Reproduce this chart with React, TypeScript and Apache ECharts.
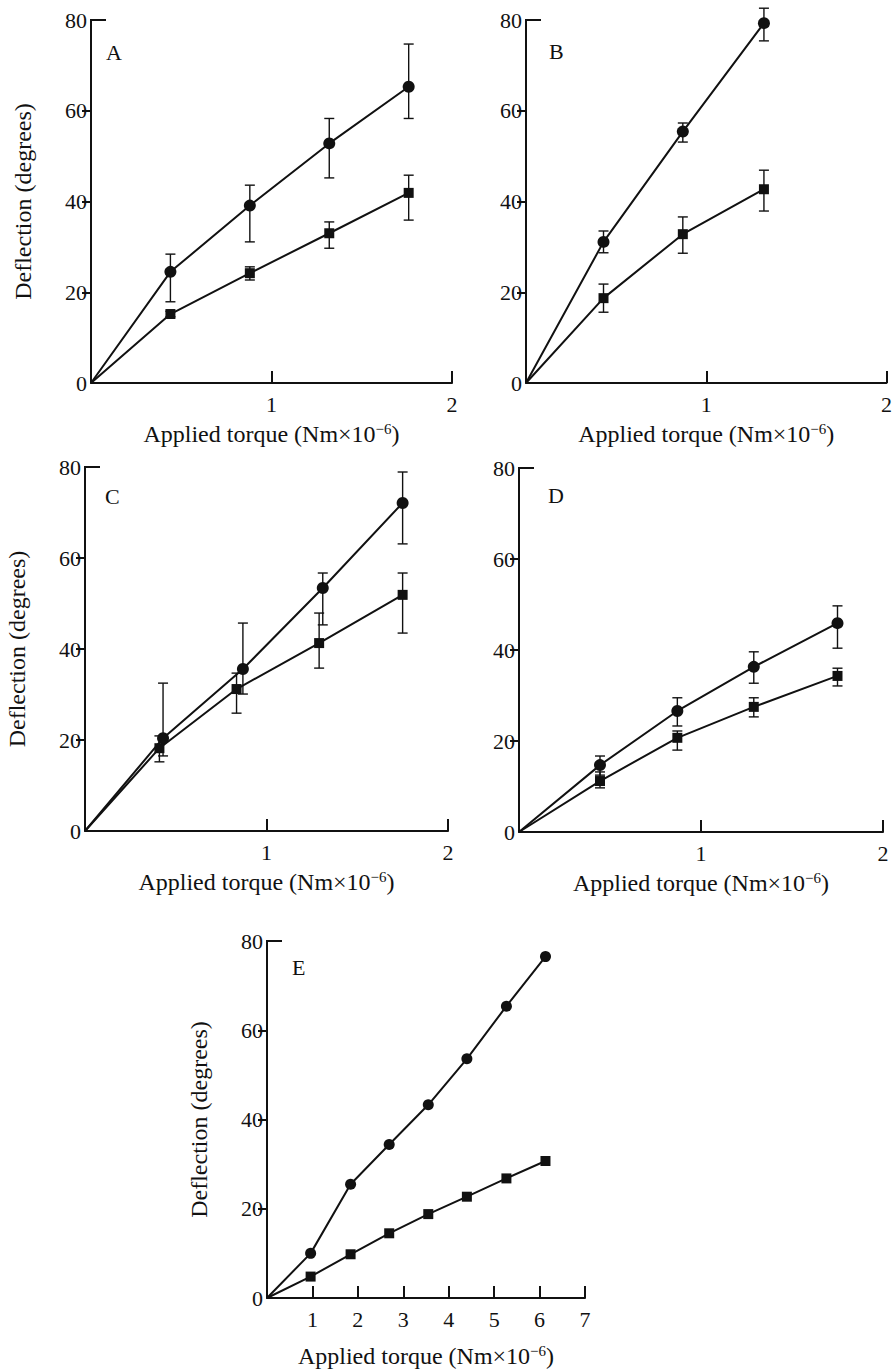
import React, { useEffect, useRef } from 'react';
import * as echarts from 'echarts';

// ---------- data ----------
const panelLetters = ['A', 'B', 'C', 'D', 'E'];

const xA = [0.44, 0.88, 1.32, 1.76];
const circA = [24.5, 39.1, 52.8, 65.3];
const circALo = [17.9, 31.1, 45.2, 58.3];
const circAHi = [28.4, 43.6, 58.3, 74.7];
const sqA = [15.2, 24.2, 33.0, 41.9];
const sqALo = [14.6, 22.7, 29.7, 35.9];
const sqAHi = [15.8, 25.6, 35.5, 45.8];

const xB = [0.43, 0.87, 1.32];
const circB = [31.1, 55.4, 79.3];
const circBLo = [28.7, 53.1, 75.4];
const circBHi = [33.5, 57.3, 82.6];
const sqB = [18.7, 32.8, 42.7];
const sqBLo = [15.6, 28.6, 37.9];
const sqBHi = [21.8, 36.6, 46.9];

const xCcirc = [0.43, 0.87, 1.31, 1.75];
const circC = [20.4, 35.6, 53.4, 72.1];
const circCLo = [16.5, 30.1, 45.3, 63.1];
const circCHi = [32.5, 45.7, 56.7, 78.9];
const xCsq = [0.41, 0.835, 1.29, 1.75];
const sqC = [18.2, 31.2, 41.3, 51.9];
const sqCLo = [15.2, 25.9, 35.8, 43.5];
const sqCHi = [20.9, 34.7, 47.9, 56.7];

const xD = [0.445, 0.87, 1.29, 1.75];
const circD = [14.7, 26.6, 36.3, 45.9];
const circDLo = [12.5, 23.3, 32.7, 40.4];
const circDHi = [16.7, 29.5, 39.6, 49.7];
const sqD = [11.2, 20.7, 27.5, 34.3];
const sqDLo = [9.7, 18.0, 25.3, 32.1];
const sqDHi = [13.2, 22.2, 29.5, 36.0];

const xE = [0.96, 1.84, 2.69, 3.55, 4.40, 5.27, 6.13];
const circE = [10.0, 25.5, 34.4, 43.3, 53.6, 65.4, 76.5];
const sqE = [4.8, 9.8, 14.5, 18.8, 22.7, 26.8, 30.7];

const yTicks = [0, 20, 40, 60, 80];
const xTicksSmall = [1, 2];
const xTicksE = [1, 2, 3, 4, 5, 6, 7];

const xTitle = 'Applied torque (Nm×10{sup|−6})';
const yTitle = 'Deflection (degrees)';

// ---------- layout ----------
const grids = [
  { left: 91, top: 20, width: 361, height: 363 },
  { left: 526, top: 20, width: 361, height: 363 },
  { left: 85, top: 467, width: 363, height: 364 },
  { left: 519, top: 468, width: 364, height: 364 },
  { left: 267, top: 941, width: 318, height: 357 },
];
const xMax = [2, 2, 2, 2, 7];
const showYTitle = [true, false, true, false, true];
const letterPos = [
  [106, 52],
  [549, 51],
  [105, 496],
  [548, 495],
  [292, 967],
];

const FONT = '"Liberation Serif", "Times New Roman", serif';
const BLACK = '#111';

function withOrigin(xs: number[], ys: number[]) {
  return [[0, 0], ...xs.map((x, i) => [x, ys[i]])];
}
function errData(xs: number[], lo: number[], hi: number[]) {
  return xs.map((x, i) => [x, lo[i], hi[i]]);
}

const errRender = (params: any, api: any) => {
  const x = api.value(0);
  const p1 = api.coord([x, api.value(2)]);
  const p2 = api.coord([x, api.value(1)]);
  const w = 5;
  const st = { stroke: BLACK, lineWidth: 1.4 };
  return {
    type: 'group',
    children: [
      { type: 'line', shape: { x1: p1[0], y1: p1[1], x2: p2[0], y2: p2[1] }, style: st },
      { type: 'line', shape: { x1: p1[0] - w, y1: p1[1], x2: p1[0] + w, y2: p1[1] }, style: st },
      { type: 'line', shape: { x1: p2[0] - w, y1: p2[1], x2: p2[0] + w, y2: p2[1] }, style: st },
    ],
  };
};

function lineSeries(idx: number, data: number[][], shape: string, size: number) {
  return {
    type: 'line',
    xAxisIndex: idx,
    yAxisIndex: idx,
    data,
    symbol: (_v: any, p: any) => (p.dataIndex === 0 ? 'none' : shape),
    symbolSize: size,
    showAllSymbol: true,
    lineStyle: { color: BLACK, width: 2 },
    itemStyle: { color: BLACK },
    z: 3,
  };
}
function errSeries(idx: number, data: number[][]) {
  return {
    type: 'custom',
    xAxisIndex: idx,
    yAxisIndex: idx,
    data,
    renderItem: errRender,
    clip: false,
    z: 2,
  };
}

export default function App() {
  const ref = useRef<HTMLDivElement>(null);
  useEffect(() => {
    if (!ref.current) return;
    const chart = echarts.init(ref.current, undefined, { renderer: 'svg' });

    const xAxes = grids.map((_, i) => {
      const ticks = i === 4 ? xTicksE : xTicksSmall;
      return {
        type: 'value',
        gridIndex: i,
        min: 0,
        max: xMax[i],
        interval: 1,
        axisLine: { lineStyle: { color: BLACK, width: 2 } },
        axisTick: { show: true, inside: true, length: 12, customValues: ticks, lineStyle: { color: BLACK, width: 2 } },
        axisLabel: { customValues: ticks, color: BLACK, fontSize: 22, fontFamily: FONT, margin: 10 },
        splitLine: { show: false },
        name: xTitle,
        nameLocation: 'middle',
        nameGap: i === 4 ? 45 : 38,
        nameTextStyle: {
          color: BLACK,
          fontSize: 24,
          fontFamily: FONT,
          rich: { sup: { fontSize: 15, fontFamily: FONT, color: BLACK, padding: [0, 0, 11, 0] } },
        },
      };
    });
    const yAxes = grids.map((_, i) => ({
      type: 'value',
      gridIndex: i,
      min: 0,
      max: 80,
      interval: 20,
      axisLine: { lineStyle: { color: BLACK, width: 2 } },
      axisTick: { show: true, inside: false, length: 9, customValues: [20, 40, 60], lineStyle: { color: BLACK, width: 2 } },
      axisLabel: { customValues: yTicks, color: BLACK, fontSize: 22, fontFamily: FONT, margin: 4 },
      splitLine: { show: false },
      name: showYTitle[i] ? yTitle : '',
      nameLocation: 'middle',
      nameRotate: 90,
      nameGap: 56,
      nameTextStyle: { color: BLACK, fontSize: 24, fontFamily: FONT },
    }));

    const series: any[] = [
      lineSeries(0, withOrigin(xA, circA), 'circle', 12),
      lineSeries(0, withOrigin(xA, sqA), 'rect', 10),
      errSeries(0, errData(xA, circALo, circAHi)),
      errSeries(0, errData(xA, sqALo, sqAHi)),

      lineSeries(1, withOrigin(xB, circB), 'circle', 12),
      lineSeries(1, withOrigin(xB, sqB), 'rect', 10),
      errSeries(1, errData(xB, circBLo, circBHi)),
      errSeries(1, errData(xB, sqBLo, sqBHi)),

      lineSeries(2, withOrigin(xCcirc, circC), 'circle', 12),
      lineSeries(2, withOrigin(xCsq, sqC), 'rect', 10),
      errSeries(2, errData(xCcirc, circCLo, circCHi)),
      errSeries(2, errData(xCsq, sqCLo, sqCHi)),

      lineSeries(3, withOrigin(xD, circD), 'circle', 12),
      lineSeries(3, withOrigin(xD, sqD), 'rect', 10),
      errSeries(3, errData(xD, circDLo, circDHi)),
      errSeries(3, errData(xD, sqDLo, sqDHi)),

      lineSeries(4, withOrigin(xE, circE), 'circle', 11),
      lineSeries(4, withOrigin(xE, sqE), 'rect', 10),
    ];

    chart.setOption({
      animation: false,
      backgroundColor: '#fff',
      grid: grids.map((g) => ({ ...g, containLabel: false })),
      xAxis: xAxes,
      yAxis: yAxes,
      series,
    });

    // axis top caps and panel letters
    const graphics: any[] = [];
    grids.forEach((_, i) => {
      const p = chart.convertToPixel({ gridIndex: i }, [0, 80]) as number[];
      graphics.push({
        type: 'line',
        shape: { x1: p[0] - 1, y1: p[1], x2: p[0] + 15, y2: p[1] },
        style: { stroke: BLACK, lineWidth: 2 },
        silent: true,
      });
      graphics.push({
        type: 'text',
        x: letterPos[i][0],
        y: letterPos[i][1],
        style: {
          text: panelLetters[i],
          fill: BLACK,
          font: `22px ${FONT}`,
          verticalAlign: 'middle',
          align: 'left',
        },
        silent: true,
      });
    });
    chart.setOption({ graphic: graphics });

    return () => chart.dispose();
  }, []);
  return <div ref={ref} style={{ position: 'absolute', left: 0, top: 0, width: 895, height: 1369 }} />;
}
